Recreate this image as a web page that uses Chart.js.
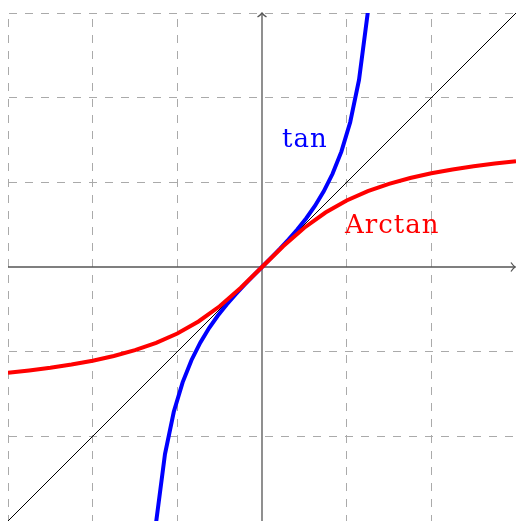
<!DOCTYPE html>
<html>
<head>
<meta charset="utf-8">
<title>tan and Arctan</title>
<script src="https://cdn.jsdelivr.net/npm/chart.js@4.4.1/dist/chart.umd.min.js"></script>
<style>
  html, body { margin: 0; padding: 0; background: #ffffff; overflow: hidden; }
  #wrap { width: 516px; height: 521px; position: relative; }
</style>
</head>
<body>
<div id="wrap"><canvas id="plot"></canvas></div>
<script>
// Sample points of y = Arctan(x) on [-3, 3]
const arctanX = [-3, -2.75, -2.5, -2.25, -2, -1.75, -1.5, -1.25, -1, -0.75, -0.5, -0.25, 0,
                 0.25, 0.5, 0.75, 1, 1.25, 1.5, 1.75, 2, 2.25, 2.5, 2.75, 3];
const arctanY = [-1.2490, -1.2220, -1.1903, -1.1526, -1.1071, -1.0517, -0.9828, -0.8961, -0.7854,
                 -0.6435, -0.4636, -0.2450, 0, 0.2450, 0.4636, 0.6435, 0.7854, 0.8961, 0.9828,
                 1.0517, 1.1071, 1.1526, 1.1903, 1.2220, 1.2490];

// Sample points of y = tan(x) on [-1.25, 1.25]
const tanX = [-1.25, -1.1458, -1.0417, -0.9375, -0.8333, -0.7292, -0.625, -0.5208, -0.4167,
              -0.3125, -0.2083, -0.1042, 0, 0.1042, 0.2083, 0.3125, 0.4167, 0.5208, 0.625,
              0.7292, 0.8333, 0.9375, 1.0417, 1.1458, 1.25];
const tanY = [-3.0096, -2.2098, -1.7101, -1.3621, -1.1008, -0.8934, -0.7215, -0.5737, -0.4426,
              -0.3236, -0.2114, -0.1045, 0, 0.1045, 0.2114, 0.3236, 0.4426, 0.5737, 0.7215,
              0.8934, 1.1008, 1.3621, 1.7101, 2.2098, 3.0096];

// The diagonal y = x
const identityX = [-3, 3];
const identityY = [-3, 3];

// Axis range and grid ticks
const axisMin = -3;
const axisMax = 3;
const gridStep = 1;

// Curve names written beside the curves
const curveNames = ['tan', 'Arctan'];

const toPoints = (xs, ys) => xs.map((x, i) => ({ x: x, y: ys[i] }));

// Axes through the origin with open arrow heads
const originAxes = {
  id: 'originAxes',
  beforeDatasetsDraw(chart) {
    const { ctx, chartArea, scales } = chart;
    const x0 = scales.x.getPixelForValue(0);
    const y0 = scales.y.getPixelForValue(0);
    ctx.save();
    ctx.strokeStyle = '#555555';
    ctx.lineWidth = 1.3;
    ctx.setLineDash([]);
    ctx.beginPath();
    ctx.moveTo(chartArea.left, y0);
    ctx.lineTo(chartArea.right - 0.5, y0);
    ctx.moveTo(x0, chartArea.bottom);
    ctx.lineTo(x0, chartArea.top);
    ctx.stroke();
    // arrow heads
    const ax = chartArea.right - 1;
    const ay = chartArea.top;
    ctx.beginPath();
    ctx.moveTo(ax - 4, y0 - 4.5);
    ctx.quadraticCurveTo(ax - 2, y0 - 1.5, ax, y0);
    ctx.quadraticCurveTo(ax - 2, y0 + 1.5, ax - 4, y0 + 4.5);
    ctx.moveTo(x0 - 4.5, ay + 4);
    ctx.quadraticCurveTo(x0 - 1.5, ay + 2, x0, ay);
    ctx.quadraticCurveTo(x0 + 1.5, ay + 2, x0 + 4.5, ay + 4);
    ctx.stroke();
    ctx.restore();
  }
};

// Curve names
const curveText = {
  id: 'curveText',
  afterDatasetsDraw(chart) {
    const { ctx, scales } = chart;
    ctx.save();
    ctx.font = '26px "DejaVu Serif"';
    ctx.textBaseline = 'alphabetic';
    ctx.textAlign = 'left';
    if ('letterSpacing' in ctx) ctx.letterSpacing = '1px';
    ctx.fillStyle = '#0000ff';
    ctx.fillText(curveNames[0], scales.x.getPixelForValue(0.236), scales.y.getPixelForValue(1.417));
    ctx.fillStyle = '#ff0000';
    ctx.fillText(curveNames[1], scales.x.getPixelForValue(0.98), scales.y.getPixelForValue(0.40));
    ctx.restore();
  }
};

const gridColor = (c) => (c.tick && c.tick.value === 0 ? 'rgba(0,0,0,0)' : '#aaaaaa');

new Chart(document.getElementById('plot'), {
  type: 'line',
  data: {
    datasets: [
      {
        label: curveNames[1],
        data: toPoints(arctanX, arctanY),
        borderColor: '#ff0000',
        borderWidth: 4,
        pointRadius: 0,
        tension: 0,
        fill: false,
        clip: 0,
        order: 0
      },
      {
        label: curveNames[0],
        data: toPoints(tanX, tanY),
        borderColor: '#0000ff',
        borderWidth: 4,
        pointRadius: 0,
        tension: 0,
        fill: false,
        clip: 0,
        order: 1
      },
      {
        label: 'y = x',
        data: toPoints(identityX, identityY),
        borderColor: '#000000',
        borderWidth: 1,
        pointRadius: 0,
        tension: 0,
        fill: false,
        clip: 0,
        order: 2
      }
    ]
  },
  options: {
    responsive: true,
    maintainAspectRatio: false,
    animation: false,
    events: [],
    layout: { padding: { left: 8, top: 13, right: 0, bottom: 0 } },
    plugins: {
      legend: { display: false },
      tooltip: { enabled: false }
    },
    scales: {
      x: {
        type: 'linear',
        min: axisMin,
        max: axisMax,
        ticks: { display: false, stepSize: gridStep },
        grid: { color: gridColor, lineWidth: 1, drawTicks: false },
        border: { display: false, dash: [8, 8], dashOffset: 10 }
      },
      y: {
        type: 'linear',
        min: axisMin,
        max: axisMax,
        ticks: { display: false, stepSize: gridStep },
        grid: { color: gridColor, lineWidth: 1, drawTicks: false },
        border: { display: false, dash: [8, 8], dashOffset: -1 }
      }
    }
  },
  plugins: [originAxes, curveText]
});
</script>
</body>
</html>
